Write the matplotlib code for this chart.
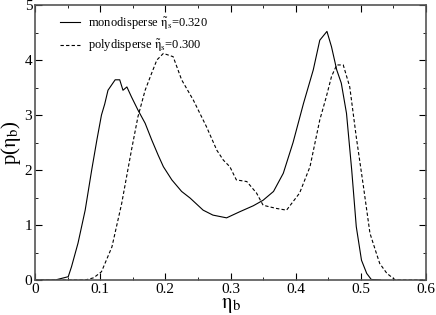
import numpy as np
import matplotlib
matplotlib.use("Agg")
import matplotlib.pyplot as plt
from matplotlib.ticker import MultipleLocator, FuncFormatter

plt.rcParams['font.family'] = ['Liberation Serif', 'DejaVu Serif']
plt.rcParams['mathtext.fontset'] = 'stix'

# monodisperse curve
mono_x = [0.0, 0.031, 0.051, 0.056, 0.066, 0.077, 0.087, 0.095, 0.102, 0.107, 0.112,
          0.123, 0.130, 0.135, 0.141, 0.148, 0.158, 0.169, 0.179, 0.189, 0.197,
          0.210, 0.225, 0.238, 0.258, 0.273, 0.294, 0.314, 0.335, 0.350, 0.366,
          0.381, 0.396, 0.412, 0.427, 0.437, 0.448, 0.455, 0.463, 0.470, 0.478,
          0.486, 0.493, 0.501, 0.509, 0.516, 0.53]
mono_y = [0.0, 0.0, 0.06, 0.24, 0.67, 1.27, 2.0, 2.55, 3.0, 3.2, 3.45,
          3.64, 3.64, 3.45, 3.51, 3.33, 3.09, 2.85, 2.55, 2.27, 2.06,
          1.82, 1.61, 1.49, 1.27, 1.18, 1.13, 1.24, 1.35, 1.45, 1.61,
          1.94, 2.5, 3.21, 3.82, 4.36, 4.52, 4.24, 3.82, 3.58, 3.03,
          2.0, 0.97, 0.36, 0.12, 0.01, 0.0]

# polydisperse curve
poly_x = [0.0, 0.077, 0.090, 0.102, 0.118, 0.133, 0.148, 0.158, 0.169, 0.179, 0.187,
          0.197, 0.212, 0.225, 0.243, 0.263, 0.279, 0.289, 0.299, 0.309, 0.325,
          0.340, 0.350, 0.360, 0.371, 0.386, 0.406, 0.422, 0.437, 0.447, 0.455,
          0.463, 0.473, 0.483, 0.493, 0.504, 0.514, 0.524, 0.529, 0.54, 0.553, 0.6]
poly_y = [0.0, 0.0, 0.04, 0.15, 0.6, 1.39, 2.36, 2.97, 3.45, 3.76, 4.0,
          4.12, 4.06, 3.64, 3.27, 2.79, 2.36, 2.18, 2.06, 1.82, 1.79,
          1.58, 1.36, 1.33, 1.30, 1.27, 1.58, 2.06, 2.91, 3.33, 3.70,
          3.91, 3.91, 3.51, 2.6, 1.70, 0.85, 0.48, 0.30, 0.12, 0.0, 0.0]

fig = plt.figure(figsize=(4.36, 3.15), dpi=100)
ax = fig.add_axes([35/436, 1 - 280/315, 391/436, 275/315])

ax.plot(mono_x, mono_y, color='black', lw=0.8,
        label=r'monodisperse $\tilde{\mathrm{\eta}}_{\rm s}$=0.320')
ax.plot(poly_x, poly_y, color='black', lw=0.8, ls=(0, (3, 2)),
        label=r'polydisperse $\tilde{\mathrm{\eta}}_{\rm s}$=0.300')

ax.set_xlim(0, 0.6)
ax.set_ylim(0, 5)
ax.xaxis.set_major_locator(MultipleLocator(0.1))
ax.xaxis.set_minor_locator(MultipleLocator(0.05))
ax.yaxis.set_major_locator(MultipleLocator(1))
ax.yaxis.set_minor_locator(MultipleLocator(0.5))
ax.xaxis.set_major_formatter(FuncFormatter(lambda v, p: '0' if abs(v) < 1e-9 else '%.1f' % v))
ax.tick_params(which='both', direction='in', top=True, right=True, labelsize=11, pad=2)
ax.tick_params(which='major', length=5)
ax.tick_params(which='minor', length=2.5)
for s in ax.spines.values():
    s.set_linewidth(1.2)
    s.set_color('#555555')

ax.set_xlabel(r'$\mathrm{\eta}_{\rm b}$', fontsize=15, labelpad=0)
ax.set_ylabel(r'p($\mathrm{\eta}_{\rm b}$)', fontsize=15, labelpad=1)

ax.legend(loc='upper left', frameon=False, fontsize=9, handlelength=1.6,
          handletextpad=0.6, bbox_to_anchor=(0.045, 0.99), borderaxespad=0.2)

fig.savefig('out.png', dpi=100)
